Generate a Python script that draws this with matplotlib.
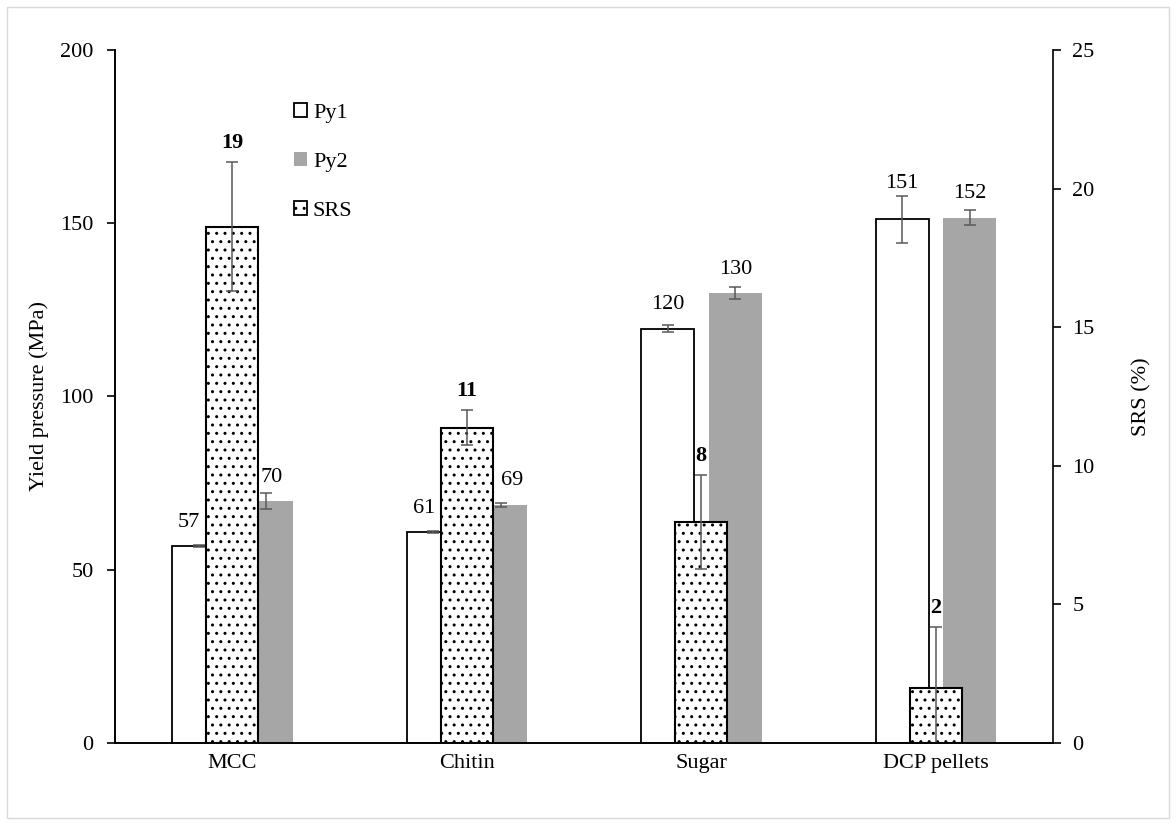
import numpy as np
import matplotlib
matplotlib.use("Agg")
import matplotlib.pyplot as plt
from matplotlib.patches import Rectangle, Patch

plt.rcParams["font.family"] = ["Liberation Serif", "DejaVu Serif"]
plt.rcParams["font.size"] = 16
plt.rcParams["hatch.linewidth"] = 1.0

categories = ["MCC", "Chitin", "Sugar", "DCP pellets"]
py1 = [56.8, 60.8, 119.6, 151.1]
py1_err = [0.3, 0.3, 1.0, 6.7]
py2 = [69.8, 68.7, 129.8, 151.6]
py2_err = [2.3, 0.7, 1.7, 2.2]
srs = [18.63, 11.37, 7.97, 1.97]
srs_err = [2.33, 0.63, 1.70, 2.21]

x = np.arange(len(categories))
err_kw = dict(ecolor="#595959", elinewidth=1.1, capsize=4.3, capthick=1.1)

fig = plt.figure(figsize=(11.76, 8.25), dpi=100)
ax = fig.add_axes([0.0978, 0.0994, 0.7976, 0.84])
ax2 = ax.twinx()

ax.bar(x - 0.143, py1, 0.225, yerr=py1_err, color="white",
       edgecolor="black", linewidth=1.3, error_kw=err_kw, label="Py1")
ax.bar(x + 0.145, py2, 0.225, yerr=py2_err, color="#a6a6a6",
       linewidth=0, error_kw=err_kw, label="Py2")
ax2.bar(x, srs, 0.22, yerr=srs_err, color="white", edgecolor="black",
        hatch="..", linewidth=1.5, error_kw=err_kw, label="SRS")

ax.set_ylim(0, 200)
ax2.set_ylim(0, 25)
ax.set_xlim(-0.5, 3.5)
ax.set_yticks([0, 50, 100, 150, 200])
ax2.set_yticks([0, 5, 10, 15, 20, 25])
ax.set_xticks(x)
ax.set_xticklabels(categories)
ax.tick_params(axis="x", length=0, pad=8)
ax.tick_params(axis="y", length=6, width=1.2, direction="out", pad=9.5)
ax2.tick_params(axis="y", length=6, width=1.2, direction="out", pad=8)
for a in (ax, ax2):
    a.spines["top"].set_visible(False)
    for s in ("left", "right", "bottom"):
        a.spines[s].set_linewidth(1.2)
ax.spines["right"].set_visible(False)
ax.set_ylabel("Yield pressure (MPa)", labelpad=8)
ax2.set_ylabel("SRS (%)", labelpad=27)

# value labels, drawn on the top axes so the SRS bars don't hide them
px_per_left = 693 / 200


def label_py(xs, vals, errs, dx):
    for xi, v, e, d in zip(xs, vals, errs, dx):
        top_px = v * px_per_left
        err_px = (v + e) * px_per_left
        y_px = max(top_px + 24, err_px + 13)
        ax2.annotate(f"{v:.0f}", (xi, v / 8), xytext=(d, y_px - top_px),
                     textcoords="offset pixels", ha="center", va="center",
                     zorder=5)


label_py(x - 0.143, py1, py1_err, [-10, -9, 0, 0])
label_py(x + 0.145, py2, py2_err, [5, 11, 0, 0])

for xi, v, e in zip(x, srs, srs_err):
    ax2.annotate(f"{v:.0f}", (xi, v + e), xytext=(0, 19),
                 textcoords="offset pixels", ha="center", va="center",
                 fontweight="bold", zorder=5)

handles = [Patch(facecolor="white", edgecolor="black", linewidth=1.3, label="Py1"),
           Patch(facecolor="#a6a6a6", label="Py2"),
           Patch(facecolor="white", edgecolor="black", hatch="..", linewidth=1.3, label="SRS")]
ax2.legend(handles=handles, loc="upper left", bbox_to_anchor=(0.233, 0.899),
           bbox_transform=fig.transFigure, frameon=False, handlelength=0.6,
           handleheight=0.6, handletextpad=0.25, labelspacing=1.3)

fig.patches.append(Rectangle((0.006, 0.008), 0.988, 0.984, transform=fig.transFigure,
                             fill=False, edgecolor="#d9d9d9", linewidth=1))

fig.savefig("out.png", dpi=100)
